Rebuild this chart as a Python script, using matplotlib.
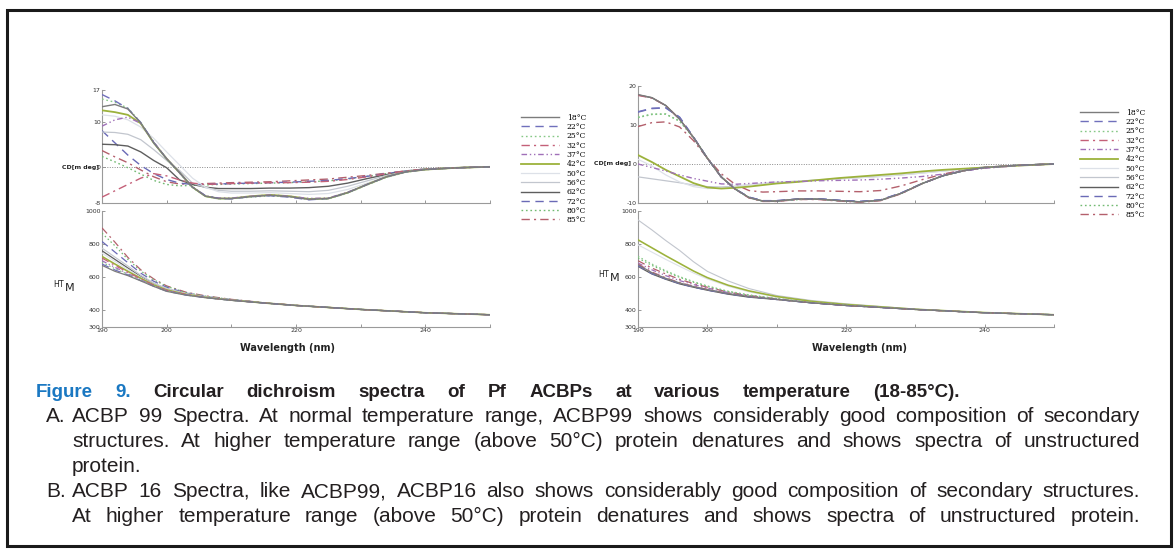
"""
Circular dichroism (CD) and HT voltage spectra of two Pf ACBPs at
temperatures between 18 and 85 degrees, with the figure caption below.
"""

import matplotlib
matplotlib.use('Agg')
import matplotlib.pyplot as plt
from matplotlib import font_manager
from matplotlib.font_manager import FontProperties
from matplotlib.patches import Rectangle

W, H = 1174, 552

temps = ['18°C', '22°C', '25°C', '32°C', '37°C', '42°C',
         '50°C', '56°C', '62°C', '72°C', '80°C', '85°C']

wl_cd = [190, 192, 194, 196, 198, 200, 202, 204, 206, 208, 210, 213,
         216, 219, 222, 225, 228, 231, 234, 237, 240, 245, 250]
wl_ht = [190, 192, 194, 196, 198, 200, 203, 206, 210, 215, 220, 230, 240, 250]

# ACBP99, CD [m deg], one row per temperature (same order as temps)
cd_acbp99 = [
    [13.3, 13.8, 12.8, 9.7, 5.3, 1.8, -1.3, -4.5, -6.5, -7.0, -7.0, -6.6, -6.3, -6.6, -7.2, -7.0, -5.7, -3.9, -2.2, -1.1, -0.6, -0.2, 0.0],
    [16.0, 14.6, 12.9, 9.8, 5.4, 1.8, -1.3, -4.5, -6.4, -7.0, -7.1, -6.6, -6.4, -6.7, -7.3, -7.0, -5.7, -3.9, -2.2, -1.1, -0.6, -0.2, 0.0],
    [15.0, 14.3, 13.0, 9.8, 5.3, 1.7, -1.4, -4.6, -6.5, -7.1, -7.0, -6.7, -6.4, -6.6, -7.2, -7.1, -5.8, -4.0, -2.3, -1.2, -0.6, -0.2, 0.0],
    [-6.7, -5.3, -3.9, -2.5, -1.5, -2.0, -2.9, -3.6, -3.9, -3.8, -3.7, -3.6, -3.5, -3.5, -3.4, -3.2, -2.8, -2.2, -1.5, -0.9, -0.5, -0.2, 0.0],
    [9.0, 10.4, 11.0, 9.6, 5.5, 1.8, -1.3, -4.4, -6.4, -6.9, -6.9, -6.5, -6.2, -6.5, -7.0, -6.9, -5.6, -3.9, -2.2, -1.1, -0.6, -0.2, 0.0],
    [12.5, 12.1, 11.5, 9.6, 5.3, 1.8, -1.3, -4.5, -6.5, -7.0, -7.0, -6.5, -6.2, -6.5, -7.1, -7.0, -5.7, -3.9, -2.2, -1.1, -0.6, -0.2, 0.0],
    [11.5, 11.2, 10.4, 8.8, 6.3, 3.3, 0.4, -2.5, -4.5, -5.5, -5.8, -5.8, -5.7, -5.9, -6.1, -5.9, -5.0, -3.6, -2.1, -1.1, -0.6, -0.2, 0.0],
    [7.7, 7.6, 7.2, 6.0, 3.8, 1.4, -0.8, -3.6, -4.6, -5.2, -5.4, -5.4, -5.3, -5.4, -5.5, -5.2, -4.3, -3.1, -1.9, -1.0, -0.5, -0.2, 0.0],
    [5.0, 4.9, 4.6, 3.3, 1.4, -0.2, -2.9, -3.9, -4.5, -4.8, -4.8, -4.8, -4.7, -4.7, -4.6, -4.3, -3.6, -2.6, -1.7, -1.0, -0.5, -0.2, 0.0],
    [8.0, 5.3, 2.6, 0.3, -1.5, -2.8, -3.6, -3.9, -3.9, -3.8, -3.7, -3.6, -3.5, -3.4, -3.2, -3.0, -2.6, -2.1, -1.5, -0.9, -0.5, -0.2, 0.0],
    [2.3, 1.1, -0.2, -1.6, -3.0, -3.9, -4.2, -4.1, -4.0, -3.9, -3.8, -3.7, -3.6, -3.5, -3.3, -3.1, -2.7, -2.1, -1.5, -0.9, -0.5, -0.2, 0.0],
    [3.6, 2.2, 0.9, -0.7, -2.2, -3.3, -3.8, -3.8, -3.7, -3.6, -3.5, -3.4, -3.3, -3.1, -2.9, -2.7, -2.3, -1.9, -1.4, -0.9, -0.5, -0.2, 0.0],
]

# ACBP99, HT [V]
ht_acbp99 = [
    [672, 636, 610, 578, 545, 515, 492, 477, 461, 445, 430, 406, 386, 374],
    [680, 644, 614, 580, 546, 516, 493, 477, 461, 445, 430, 406, 386, 374],
    [690, 652, 618, 582, 548, 518, 494, 477, 461, 445, 430, 406, 386, 374],
    [716, 672, 630, 590, 552, 522, 496, 478, 462, 445, 430, 406, 386, 374],
    [700, 660, 622, 585, 549, 520, 495, 478, 462, 445, 430, 406, 386, 374],
    [726, 680, 636, 594, 554, 524, 497, 479, 462, 445, 430, 406, 386, 374],
    [746, 696, 648, 600, 558, 528, 499, 480, 463, 445, 430, 406, 386, 374],
    [776, 722, 668, 612, 566, 533, 502, 482, 464, 446, 430, 406, 386, 374],
    [760, 708, 656, 604, 560, 530, 500, 481, 464, 446, 430, 406, 386, 374],
    [816, 752, 688, 625, 576, 540, 505, 484, 465, 446, 430, 406, 386, 374],
    [866, 790, 708, 638, 585, 545, 508, 486, 466, 446, 430, 406, 386, 374],
    [898, 812, 720, 645, 590, 548, 510, 488, 467, 447, 431, 406, 386, 374],
]

# ACBP16, CD [m deg]
cd_acbp16 = [
    [17.8, 17.0, 15.0, 11.5, 6.8, 1.5, -3.3, -6.4, -8.6, -9.5, -9.5, -9.0, -9.0, -9.4, -9.7, -9.3, -7.5, -5.0, -3.0, -1.7, -0.9, -0.3, 0.0],
    [13.4, 14.3, 14.4, 12.0, 6.9, 1.5, -3.3, -6.4, -8.5, -9.4, -9.4, -9.0, -8.9, -9.3, -9.6, -9.2, -7.4, -5.0, -3.0, -1.7, -0.9, -0.3, 0.0],
    [12.0, 12.8, 12.8, 11.0, 6.8, 1.5, -3.3, -6.4, -8.6, -9.5, -9.5, -9.1, -9.0, -9.4, -9.7, -9.3, -7.5, -5.0, -3.0, -1.7, -0.9, -0.3, 0.0],
    [17.6, 16.9, 15.0, 11.5, 6.8, 1.5, -3.3, -6.5, -8.7, -9.6, -9.6, -9.1, -9.1, -9.5, -9.8, -9.4, -7.6, -5.0, -3.0, -1.7, -0.9, -0.3, 0.0],
    [0.0, -0.9, -1.8, -2.8, -3.7, -4.4, -5.1, -5.2, -5.0, -4.8, -4.6, -4.5, -4.3, -4.2, -4.1, -3.9, -3.6, -3.2, -2.6, -1.8, -1.1, -0.4, 0.0],
    [2.3, 0.5, -1.5, -3.2, -4.9, -6.0, -6.3, -6.1, -5.8, -5.4, -5.0, -4.6, -4.1, -3.6, -3.2, -2.8, -2.4, -1.9, -1.5, -1.2, -0.9, -0.4, 0.0],
    [1.2, -0.5, -2.8, -4.6, -5.8, -6.3, -6.2, -5.8, -5.3, -5.0, -4.7, -4.4, -4.1, -3.8, -3.5, -3.2, -2.8, -2.3, -1.8, -1.3, -0.8, -0.3, 0.0],
    [-3.3, -3.8, -4.3, -4.8, -5.4, -5.8, -5.9, -5.7, -5.3, -5.0, -4.7, -4.4, -4.1, -3.8, -3.5, -3.2, -2.8, -2.3, -1.8, -1.3, -0.8, -0.3, 0.0],
    [17.7, 17.0, 15.0, 11.5, 6.8, 1.5, -3.3, -6.4, -8.6, -9.5, -9.5, -9.0, -9.0, -9.4, -9.7, -9.3, -7.5, -5.0, -3.0, -1.7, -0.9, -0.3, 0.0],
    [13.3, 14.2, 14.4, 12.0, 6.9, 1.5, -3.3, -6.4, -8.5, -9.4, -9.4, -9.0, -8.9, -9.3, -9.6, -9.2, -7.4, -5.0, -3.0, -1.7, -0.9, -0.3, 0.0],
    [11.9, 12.7, 12.8, 11.0, 6.8, 1.5, -3.3, -6.4, -8.6, -9.5, -9.5, -9.1, -9.0, -9.4, -9.7, -9.3, -7.5, -5.0, -3.0, -1.7, -0.9, -0.3, 0.0],
    [9.6, 10.6, 10.8, 9.5, 6.0, 1.5, -2.5, -5.2, -6.8, -7.2, -7.1, -6.9, -6.9, -7.0, -7.1, -6.8, -5.6, -4.0, -2.6, -1.5, -0.8, -0.3, 0.0],
]

# ACBP16, HT [V]
ht_acbp16 = [
    [676, 628, 594, 566, 544, 526, 502, 484, 467, 446, 430, 406, 386, 374],
    [670, 622, 590, 562, 541, 523, 500, 482, 466, 446, 430, 406, 386, 374],
    [726, 680, 640, 604, 574, 548, 516, 494, 472, 449, 432, 406, 386, 374],
    [680, 632, 597, 568, 546, 527, 503, 485, 467, 447, 430, 406, 386, 374],
    [686, 645, 610, 580, 556, 535, 508, 488, 468, 447, 430, 406, 386, 374],
    [826, 778, 730, 684, 638, 598, 552, 518, 484, 455, 436, 407, 387, 374],
    [796, 752, 708, 666, 626, 590, 546, 512, 480, 453, 435, 407, 386, 374],
    [946, 886, 822, 762, 694, 636, 578, 532, 490, 460, 440, 408, 387, 374],
    [666, 620, 588, 560, 540, 522, 498, 480, 466, 446, 430, 406, 386, 374],
    [672, 624, 591, 563, 542, 524, 501, 483, 466, 446, 430, 406, 386, 374],
    [716, 672, 634, 600, 570, 545, 514, 492, 471, 448, 431, 406, 386, 374],
    [700, 656, 620, 588, 562, 540, 511, 490, 470, 448, 431, 406, 386, 374],
]

# line look of every temperature
colors = ['#7c7c7c', '#7070bc', '#86c886', '#c46078', '#a070b8', '#9cb23c',
          '#dde1e8', '#c2c6ce', '#5e5e5e', '#6a6ab6', '#72ba72', '#b4606c']
styles = ['-', (0, (6, 4)), (0, (1.2, 2)), (0, (6, 3, 1.5, 3)),
          (0, (4, 2, 1, 2, 1, 2)), '-', '-', '-', '-', (0, (6, 4)),
          (0, (1.2, 2)), (0, (6, 3, 1.5, 3))]
widths = [1.0, 1.0, 1.0, 1.0, 1.0, 1.3, 0.9, 0.9, 1.0, 1.0, 1.0, 1.0]


def box(left, top, right, bottom):
    """pixel box -> figure fraction rect"""
    return [left / W, 1 - bottom / H, (right - left) / W, (bottom - top) / H]


def style_axes(ax, ylim, yticks, yticklabels, show_x):
    ax.set_xlim(190, 250)
    ax.set_ylim(*ylim)
    for side in ('top', 'right'):
        ax.spines[side].set_visible(False)
    for side in ('left', 'bottom'):
        ax.spines[side].set_color('#9a9a9a')
        ax.spines[side].set_linewidth(0.8)
    ax.set_yticks(yticks)
    ax.set_yticklabels(yticklabels)
    ax.set_xticks([190, 200, 220, 240])
    ax.set_xticks([210, 230, 250], minor=True)
    if show_x:
        ax.set_xticklabels(['190', '200', '220', '240'])
    else:
        ax.set_xticklabels([])
    ax.tick_params(which='both', direction='in', length=2, width=0.6,
                   color='#888888', labelsize=4.5, labelcolor='#333333', pad=1)
    ax.patch.set_alpha(0)


def draw_panel(cd_ax, ht_ax, cd_curves, ht_curves):
    handles = []
    n = len(cd_curves)
    for i, (cd, col, ls, lw) in enumerate(zip(cd_curves, colors, styles, widths)):
        h, = cd_ax.plot(wl_cd, cd, color=col, linestyle=ls, lw=lw, zorder=3 + n - i)
        handles.append(h)
    for i, (ht, col, ls, lw) in enumerate(zip(ht_curves, colors, styles, widths)):
        ht_ax.plot(wl_ht, ht, color=col, linestyle=ls, lw=lw * 0.9, zorder=3 + n - i)
    cd_ax.axhline(0, color='#8a8a8a', lw=0.7, linestyle=(0, (1, 1.5)), zorder=1)
    return handles


def justify(fig, parts, x0, x1, base, size, family, spread=True):
    """place words so that the line runs from x0 to x1 (pixels)"""
    r = fig.canvas.get_renderer()
    texts = [fig.text(0, 1 - base / H, w, color=c, weight=wt, fontsize=size,
                      family=family, va='baseline') for w, c, wt in parts]
    sizes = [t.get_window_extent(r).width for t in texts]
    if spread and len(texts) > 1:
        gap = (x1 - x0 - sum(sizes)) / (len(texts) - 1)
    else:
        gap = size * 0.3
    x = x0
    for t, s in zip(texts, sizes):
        t.set_x(x / W)
        x += s + gap


def pick_family(names):
    """first family in names that is really installed"""
    for n in names:
        path = font_manager.findfont(FontProperties(family=n))
        if font_manager.get_font(path).family_name == n:
            return n
    return 'DejaVu Sans'


def start():
    fig = plt.figure(figsize=(W / 100, H / 100), dpi=100)

    # outer frame
    fig.patches.append(Rectangle((7 / W, 1 - 546 / H), 1164 / W, 536 / H,
                                 transform=fig.transFigure, fill=False,
                                 ec='#1a1a1a', lw=2.2))

    ax_cd1 = fig.add_axes(box(102, 90, 490, 203))
    ax_ht1 = fig.add_axes(box(102, 211, 490, 327))
    ax_cd2 = fig.add_axes(box(638, 86, 1054, 203))
    ax_ht2 = fig.add_axes(box(638, 211, 1054, 327))

    h1 = draw_panel(ax_cd1, ax_ht1, cd_acbp99, ht_acbp99)
    h2 = draw_panel(ax_cd2, ax_ht2, cd_acbp16, ht_acbp16)

    style_axes(ax_cd1, (-8, 17), [-8, 0, 10, 17], ['-8', '0', '10', '17'], False)
    style_axes(ax_cd2, (-10, 20), [-10, 0, 10, 20], ['-10', '0', '10', '20'], False)
    for ax in (ax_ht1, ax_ht2):
        style_axes(ax, (300, 1000), [300, 400, 600, 800, 1000],
                   ['300', '400', '600', '800', '1000'], True)

    # axis titles
    for x, y in ((80, 167), (612, 164)):
        fig.text(x / W, 1 - y / H, 'CD[m deg]', fontsize=4.5, weight='bold',
                 ha='center', va='center', color='#222222')
    for x, y in ((64, 287), (609, 277)):
        fig.text(x / W, 1 - y / H, r'$^{\mathrm{HT}}$M', fontsize=8,
                 ha='center', va='center', color='#222222')
    for x in (287, 860):
        fig.text(x / W, 1 - 348 / H, 'Wavelength (nm)', fontsize=7, weight='bold',
                 ha='center', va='center', color='#222222')

    # legends
    leg_kw = dict(loc='upper left', frameon=False, borderpad=0,
                  prop={'family': 'DejaVu Serif', 'size': 5.5},
                  handlelength=5.0, handletextpad=1.0, labelspacing=0.17)
    fig.legend(h1, temps, bbox_to_anchor=(517 / W, 1 - 110 / H), **leg_kw)
    fig.legend(h2, temps, bbox_to_anchor=(1076 / W, 1 - 105 / H), **leg_kw)

    # caption
    fam = pick_family(['Liberation Sans', 'Arial'])
    dark = '#231f20'
    blue = '#1a78c2'
    title = [('Figure', blue, 'bold'), ('9.', blue, 'bold')] + \
        [(w, dark, 'bold') for w in
         'Circular dichroism spectra of Pf ACBPs at various temperature (18-85°C).'.split()]
    justify(fig, title, 36, 960, 397, 13.5, fam)

    size = 15
    body = [
        ('A.', 'ACBP 99 Spectra. At normal temperature range, ACBP99 shows considerably good composition of secondary', True),
        ('', 'structures.  At higher temperature range (above 50°C) protein denatures and shows spectra of unstructured', True),
        ('', 'protein.', False),
        ('B.', 'ACBP 16 Spectra, like ACBP99, ACBP16 also shows considerably good composition of secondary structures.', True),
        ('', 'At higher temperature range (above 50°C) protein denatures and shows spectra of unstructured protein.', True),
    ]
    base = 422
    for mark, line, spread in body:
        if mark:
            fig.text(46 / W, 1 - base / H, mark, fontsize=size, family=fam,
                     color=dark, va='baseline')
        justify(fig, [(w, dark, 'normal') for w in line.split()], 72, 1140,
                base, size, fam, spread)
        base += 25

    fig.savefig('out.png', dpi=100)


if __name__ == '__main__':
    start()
